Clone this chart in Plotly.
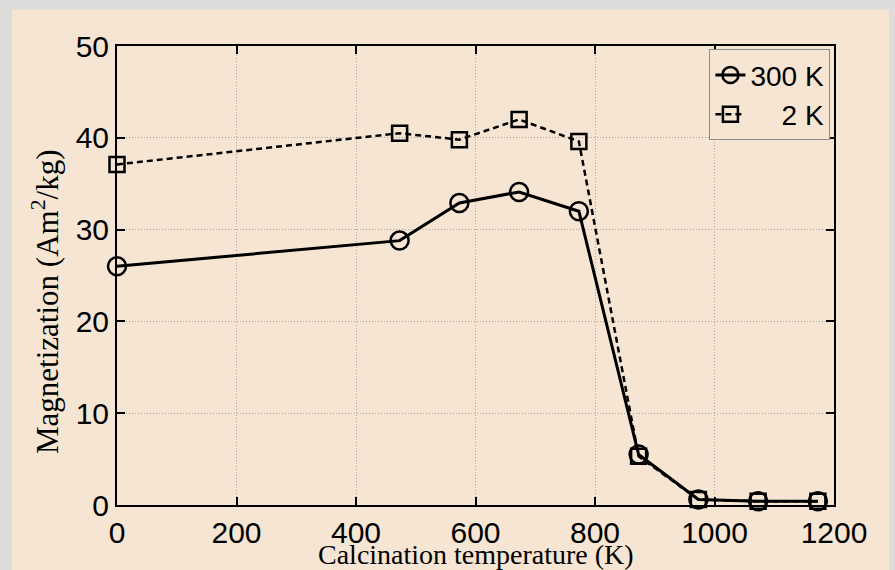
import plotly.graph_objects as go

# Calcination temperature (K) and magnetization (Am^2/kg)
temps = [0, 473, 573, 673, 773, 873, 973, 1073, 1173]
mag_300k = [26.0, 28.8, 32.9, 34.1, 32.0, 5.5, 0.6, 0.4, 0.4]
mag_2k = [37.1, 40.5, 39.8, 42.0, 39.6, 5.3, 0.6, 0.4, 0.4]
x_ticks = [0, 200, 400, 600, 800, 1000, 1200]
y_ticks = [0, 10, 20, 30, 40, 50]
x_title = "Calcination temperature (K)"
y_title = "Magnetization (Am<sup>2</sup>/kg)"

BEIGE = "#f5e5d2"
SANS = "Liberation Sans, Arial, sans-serif"
SERIF = "Liberation Serif, Times New Roman, serif"

fig = go.Figure()

fig.add_trace(go.Scatter(
    x=temps, y=mag_300k, name="300 K", mode="lines+markers", cliponaxis=False,
    line=dict(color="black", width=3),
    marker=dict(symbol="circle-open", size=18, color="black", line=dict(width=2.5)),
))
fig.add_trace(go.Scatter(
    x=temps, y=mag_2k, name="    2 K", mode="lines+markers", cliponaxis=False,
    line=dict(color="black", width=2.5, dash="6px,4px"),
    marker=dict(symbol="square-open", size=15, color="black", line=dict(width=2.5)),
))

axis_common = dict(
    showline=True, linecolor="black", linewidth=2, mirror="ticks",
    ticks="inside", ticklen=8, tickwidth=2, tickcolor="black",
    showgrid=True, gridcolor="#aaa39c", griddash="1px,2px", gridwidth=1,
    zeroline=False, automargin=False,
    tickfont=dict(family=SANS, size=30, color="black"),
)

fig.update_xaxes(range=[0, 1200], tickvals=x_ticks, **axis_common)
fig.update_yaxes(range=[0, 50], tickvals=y_ticks, **axis_common)

# Axis titles placed as paper-anchored text
fig.add_annotation(
    text=x_title, xref="paper", yref="paper", x=0.5, y=-0.1075,
    xanchor="center", yanchor="middle", showarrow=False, borderpad=0,
    font=dict(family=SERIF, size=28, color="black"),
)
fig.add_annotation(
    text=y_title, xref="paper", yref="paper", x=-0.1, y=0.443,
    xanchor="center", yanchor="middle", showarrow=False, textangle=-90,
    font=dict(family=SERIF, size=31, color="black"),
)

# Beige panel over the grey surround
fig.add_shape(
    type="rect", xref="paper", yref="paper", layer="below",
    x0=-0.1464, x1=1.0767, y0=-0.15, y1=1.0796,
    fillcolor=BEIGE, line=dict(width=0),
)

fig.update_layout(
    width=895, height=570,
    margin=dict(l=117, r=61, t=46, b=65),
    paper_bgcolor="#dedcdb", plot_bgcolor=BEIGE,
    showlegend=True,
    legend=dict(
        x=0.995, y=0.993, xanchor="right", yanchor="top",
        bgcolor=BEIGE, bordercolor="#8c8c8c", borderwidth=1,
        font=dict(family=SANS, size=28, color="black"),
        itemwidth=30, tracegroupgap=0,
    ),
)

fig.write_html("out.html")
